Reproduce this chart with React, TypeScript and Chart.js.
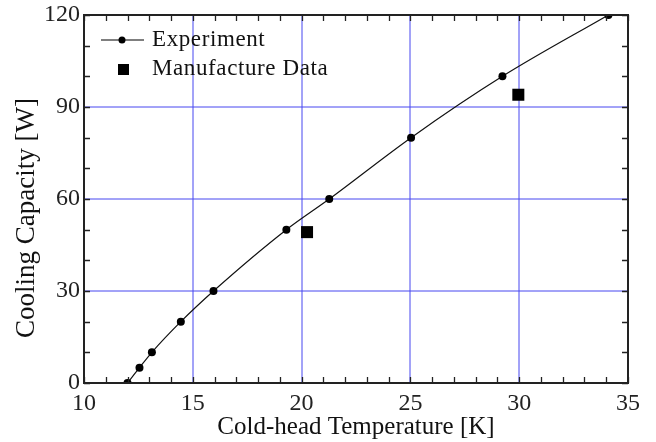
import React, { useEffect, useRef } from "react";
import { Chart, registerables } from "chart.js";

Chart.register(...registerables);

const expTemp = [12.0, 12.55, 13.12, 14.45, 15.95, 19.3, 21.27, 25.03, 29.23, 34.1];
const expPower = [0, 5, 10, 20, 30, 50, 60, 80, 100, 120];
const mfrTemp = [20.25, 29.96];
const mfrPower = [49.2, 94.0];
const xTicks = [10, 15, 20, 25, 30, 35];
const yTicks = [0, 30, 60, 90, 120];
const legendLabels = ["Experiment", "Manufacture Data"];
const xTitle = "Cold-head Temperature [K]";
const yTitle = "Cooling Capacity [W]";

const FONT = "'Liberation Serif', 'Times New Roman', serif";
const GRID = "rgb(70,70,240)";

const gridPlugin = {
  id: "customGrid",
  beforeDatasetsDraw(chart: any) {
    const { ctx, chartArea: a, scales } = chart;
    ctx.save();
    ctx.strokeStyle = GRID;
    ctx.lineWidth = 1;
    ctx.beginPath();
    xTicks.slice(1, -1).forEach((v) => {
      const px = Math.round(scales.x.getPixelForValue(v));
      ctx.moveTo(px, a.top);
      ctx.lineTo(px, a.bottom);
    });
    yTicks.slice(1, -1).forEach((v) => {
      const py = Math.round(scales.y.getPixelForValue(v));
      ctx.moveTo(a.left, py);
      ctx.lineTo(a.right, py);
    });
    ctx.stroke();
    ctx.restore();
  },
};

const framePlugin = {
  id: "frameTicks",
  afterDraw(chart: any) {
    const { ctx, chartArea: a, scales } = chart;
    const xs = scales.x;
    const ys = scales.y;
    ctx.save();
    ctx.strokeStyle = "#222";
    ctx.lineWidth = 1.3;
    const L = 6;
    ctx.beginPath();
    for (let v = 10; v <= 35; v += 1) {
      const px = Math.round(xs.getPixelForValue(v)) + 0.5;
      ctx.moveTo(px, a.bottom);
      ctx.lineTo(px, a.bottom - L);
      ctx.moveTo(px, a.top);
      ctx.lineTo(px, a.top + L);
    }
    for (let v = 0; v <= 120; v += 10) {
      const py = Math.round(ys.getPixelForValue(v)) + 0.5;
      ctx.moveTo(a.left, py);
      ctx.lineTo(a.left + L, py);
      ctx.moveTo(a.right, py);
      ctx.lineTo(a.right - L, py);
    }
    ctx.stroke();
    ctx.lineWidth = 2;
    ctx.strokeRect(a.left, a.top, a.right - a.left, a.bottom - a.top);

    // legend
    const lx = a.left + 17;
    const ly1 = a.top + 25;
    const ly2 = a.top + 54;
    ctx.lineWidth = 1.2;
    ctx.strokeStyle = "#000";
    ctx.beginPath();
    ctx.moveTo(lx, ly1);
    ctx.lineTo(lx + 43, ly1);
    ctx.stroke();
    ctx.fillStyle = "#000";
    ctx.beginPath();
    ctx.arc(lx + 21, ly1, 3.5, 0, Math.PI * 2);
    ctx.fill();
    ctx.fillRect(lx + 17, ly2 - 5, 11, 11);
    ctx.font = `23px ${FONT}`;
    ctx.textBaseline = "middle";
    ctx.textAlign = "left";
    ctx.fillStyle = "#111";
    try { (ctx as any).letterSpacing = "0.6px"; } catch (e) {}
    ctx.fillText(legendLabels[0], lx + 51, ly1);
    ctx.fillText(legendLabels[1], lx + 51, ly2);
    try { (ctx as any).letterSpacing = "0px"; } catch (e) {}

    // y title
    ctx.save();
    ctx.translate(27, 218);
    ctx.rotate(-Math.PI / 2);
    ctx.textAlign = "center";
    ctx.textBaseline = "middle";
    ctx.font = `27px ${FONT}`;
    ctx.fillText(yTitle, 0, 0);
    ctx.restore();
    ctx.restore();
  },
};

export default function App() {
  const ref = useRef<HTMLCanvasElement>(null);
  useEffect(() => {
    document.body.style.margin = "0";
    const chart = new Chart(ref.current!, {
      type: "scatter",
      data: {
        datasets: [
          {
            label: legendLabels[0],
            data: expTemp.map((x, i) => ({ x, y: expPower[i] })),
            showLine: true,
            borderColor: "#111",
            borderWidth: 1.2,
            backgroundColor: "#000",
            pointRadius: 4,
            pointBorderWidth: 0,
            cubicInterpolationMode: "monotone",
          },
          {
            label: legendLabels[1],
            data: mfrTemp.map((x, i) => ({ x, y: mfrPower[i] })),
            showLine: false,
            backgroundColor: "#000",
            borderColor: "#000",
            pointStyle: "rect",
            pointRadius: 8.5,
            pointBorderWidth: 0,
          },
        ],
      },
      options: {
        animation: false,
        responsive: false,
        layout: { padding: { left: 0, right: 28, top: 15, bottom: 0 } },
        plugins: { legend: { display: false }, tooltip: { enabled: false } },
        scales: {
          x: {
            type: "linear",
            min: 10,
            max: 35,
            afterBuildTicks: (s: any) => {
              s.ticks = xTicks.map((v) => ({ value: v }));
            },
            afterFit: (s: any) => {
              s.height = 59;
            },
            border: { display: false },
            grid: { display: false, drawTicks: false },
            ticks: {
              padding: 6,
              color: "#222",
              font: { family: FONT, size: 24 },
            },
            title: {
              display: true,
              text: xTitle,
              color: "#111",
              font: { family: FONT, size: 25 },
              padding: { top: 0, bottom: 0 },
            },
          },
          y: {
            type: "linear",
            min: 0,
            max: 120,
            afterBuildTicks: (s: any) => {
              s.ticks = yTicks.map((v) => ({ value: v }));
            },
            afterFit: (s: any) => {
              s.width = 84;
              s.paddingTop = 0;
              s.paddingBottom = 0;
            },
            border: { display: false },
            grid: { display: false, drawTicks: false },
            ticks: {
              padding: 4,
              color: "#222",
              font: { family: FONT, size: 24, lineHeight: 1 },
            },
            title: { display: false },
          },
        },
      },
      plugins: [gridPlugin, framePlugin],
    } as any);
    return () => chart.destroy();
  }, []);
  return <canvas ref={ref} width={656} height={442} style={{ display: "block" }} />;
}
